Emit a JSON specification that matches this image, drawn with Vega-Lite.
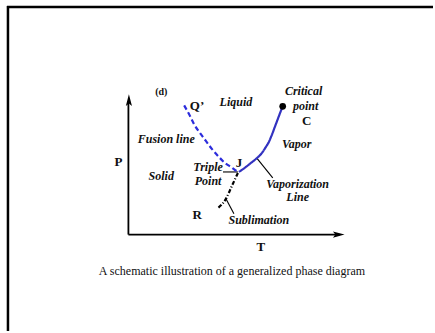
{
  "$schema": "https://vega.github.io/schema/vega-lite/v6.json",
  "width": 435,
  "height": 333,
  "autosize": {"type": "fit", "contains": "padding"},
  "padding": 0,
  "background": "white",
  "config": {"view": {"stroke": null}},
  "datasets": {
    "curves": [
      {"curve": "Fusion", "order": 1, "T": 56, "P": 130},
      {"curve": "Fusion", "order": 2, "T": 61, "P": 121},
      {"curve": "Fusion", "order": 3, "T": 66, "P": 111},
      {"curve": "Fusion", "order": 4, "T": 72, "P": 102},
      {"curve": "Fusion", "order": 5, "T": 78, "P": 94},
      {"curve": "Fusion", "order": 6, "T": 84, "P": 86},
      {"curve": "Fusion", "order": 7, "T": 91, "P": 78},
      {"curve": "Fusion", "order": 8, "T": 97, "P": 72},
      {"curve": "Fusion", "order": 9, "T": 103, "P": 68},
      {"curve": "Fusion", "order": 10, "T": 107, "P": 65},
      {"curve": "Fusion", "order": 11, "T": 111, "P": 63},
      {"curve": "Vaporization", "order": 1, "T": 111, "P": 63},
      {"curve": "Vaporization", "order": 2, "T": 118, "P": 68},
      {"curve": "Vaporization", "order": 3, "T": 123, "P": 72},
      {"curve": "Vaporization", "order": 4, "T": 128, "P": 76},
      {"curve": "Vaporization", "order": 5, "T": 134, "P": 82},
      {"curve": "Vaporization", "order": 6, "T": 138, "P": 88},
      {"curve": "Vaporization", "order": 7, "T": 141, "P": 93},
      {"curve": "Vaporization", "order": 8, "T": 144, "P": 100},
      {"curve": "Vaporization", "order": 9, "T": 147, "P": 108},
      {"curve": "Vaporization", "order": 10, "T": 150, "P": 116},
      {"curve": "Vaporization", "order": 11, "T": 153, "P": 124},
      {"curve": "Vaporization", "order": 12, "T": 155, "P": 129},
      {"curve": "Sublimation", "order": 1, "T": 110, "P": 62},
      {"curve": "Sublimation", "order": 2, "T": 104, "P": 49},
      {"curve": "Sublimation", "order": 3, "T": 98, "P": 36},
      {"curve": "Sublimation", "order": 4, "T": 89, "P": 26}
    ],
    "pointers": [
      {"name": "triple", "T": 95, "P": 63, "T2": 110, "P2": 63},
      {"name": "vaporization", "T": 129, "P": 77, "T2": 145, "P2": 57},
      {"name": "sublimation", "T": 98, "P": 36, "T2": 106, "P2": 21}
    ],
    "frame": [
      {"side": "top", "T": -122, "P": 229, "T2": 306, "P2": 229},
      {"side": "left", "T": -121, "P": 230, "T2": -121, "P2": -97}
    ],
    "axes": [
      {"axis": "P", "T": 0, "P": 0, "T2": 0, "P2": 134},
      {"axis": "T", "T": 0, "P": 0, "T2": 212, "P2": 0}
    ],
    "arrowheads": [
      {"axis": "P", "T": 0.5, "P": 135},
      {"axis": "T", "T": 211, "P": 0}
    ],
    "critical": [{"name": "Critical point", "T": 155, "P": 129}],
    "labels": [
      {"text": "Liquid", "kind": "phase", "T": 108, "P": 133},
      {"text": "Critical", "kind": "phase", "T": 176, "P": 144},
      {"text": "point", "kind": "phase", "T": 178, "P": 129},
      {"text": "Fusion line", "kind": "phase", "T": 38, "P": 96},
      {"text": "Vapor", "kind": "phase", "T": 169, "P": 91},
      {"text": "Triple", "kind": "phase", "T": 80, "P": 68},
      {"text": "Point", "kind": "phase", "T": 80, "P": 54},
      {"text": "Solid", "kind": "phase", "T": 33, "P": 59},
      {"text": "Vaporization", "kind": "phase", "T": 170, "P": 51},
      {"text": "Line", "kind": "phase", "T": 170, "P": 38},
      {"text": "Sublimation", "kind": "phase", "T": 131, "P": 15},
      {"text": "Q’", "kind": "letter", "T": 69, "P": 129},
      {"text": "C", "kind": "letter", "T": 179, "P": 114},
      {"text": "P", "kind": "letter", "T": -10, "P": 73},
      {"text": "J", "kind": "letter", "T": 111, "P": 72},
      {"text": "R", "kind": "letter", "T": 69, "P": 20},
      {"text": "T", "kind": "letter", "T": 133, "P": -12},
      {"text": "(d)", "kind": "tag", "T": 33, "P": 143},
      {"text": "A schematic illustration of a generalized phase diagram", "kind": "caption", "T": 104, "P": -37}
    ]
  },
  "encoding": {
    "x": {"field": "T", "type": "quantitative", "scale": {"domain": [-129, 306], "nice": false, "zero": false}, "axis": null},
    "y": {"field": "P", "type": "quantitative", "scale": {"domain": [-97, 236], "nice": false, "zero": false}, "axis": null}
  },
  "layer": [
    {
      "data": {"name": "frame"},
      "mark": {"type": "rule", "color": "black", "strokeWidth": 2.5},
      "encoding": {"x2": {"field": "T2"}, "y2": {"field": "P2"}}
    },
    {
      "data": {"name": "axes"},
      "mark": {"type": "rule", "color": "black", "strokeWidth": 1.8},
      "encoding": {"x2": {"field": "T2"}, "y2": {"field": "P2"}}
    },
    {
      "data": {"name": "arrowheads"},
      "mark": {"type": "point", "filled": true, "color": "black", "opacity": 1},
      "encoding": {
        "shape": {"field": "axis", "type": "nominal", "scale": {"domain": ["P", "T"], "range": ["M0,-1L0.5,0.9L0,0.5L-0.5,0.9Z", "M1,0L-0.9,-0.5L-0.5,0L-0.9,0.5Z"]}, "legend": null},
        "size": {"value": 150}
      }
    },
    {
      "data": {"name": "pointers"},
      "mark": {"type": "rule", "color": "black", "strokeWidth": 1.1},
      "encoding": {"x2": {"field": "T2"}, "y2": {"field": "P2"}}
    },
    {
      "data": {"name": "curves"},
      "mark": {"type": "line", "strokeWidth": 2.2, "interpolate": "monotone"},
      "encoding": {
        "order": {"field": "order", "type": "quantitative"},
        "color": {"field": "curve", "type": "nominal", "scale": {"domain": ["Fusion", "Vaporization", "Sublimation"], "range": ["#2c2cdc", "#3232c0", "#000000"]}, "legend": null},
        "strokeDash": {"field": "curve", "type": "nominal", "scale": {"domain": ["Fusion", "Vaporization", "Sublimation"], "range": [[5, 3], [1, 0], [4, 2, 1, 2]]}, "legend": null}
      }
    },
    {
      "data": {"name": "critical"},
      "mark": {"type": "point", "filled": true, "color": "black", "opacity": 1, "size": 45, "shape": "circle"}
    },
    {
      "data": {"name": "labels"},
      "transform": [{"filter": "datum.kind === 'phase'"}],
      "mark": {"type": "text", "font": "Liberation Serif", "fontStyle": "italic", "fontWeight": "bold", "fontSize": 12, "align": "center", "baseline": "middle", "color": "#111"},
      "encoding": {"text": {"field": "text"}}
    },
    {
      "data": {"name": "labels"},
      "transform": [{"filter": "datum.kind === 'letter'"}],
      "mark": {"type": "text", "font": "Liberation Serif", "fontWeight": "bold", "fontSize": 13, "align": "center", "baseline": "middle", "color": "#111"},
      "encoding": {"text": {"field": "text"}}
    },
    {
      "data": {"name": "labels"},
      "transform": [{"filter": "datum.kind === 'tag'"}],
      "mark": {"type": "text", "font": "Liberation Serif", "fontWeight": "bold", "fontSize": 10, "align": "center", "baseline": "middle", "color": "#111"},
      "encoding": {"text": {"field": "text"}}
    },
    {
      "data": {"name": "labels"},
      "transform": [{"filter": "datum.kind === 'caption'"}],
      "mark": {"type": "text", "font": "Liberation Serif", "fontSize": 12, "align": "center", "baseline": "middle", "color": "#111"},
      "encoding": {"text": {"field": "text"}}
    }
  ]
}
